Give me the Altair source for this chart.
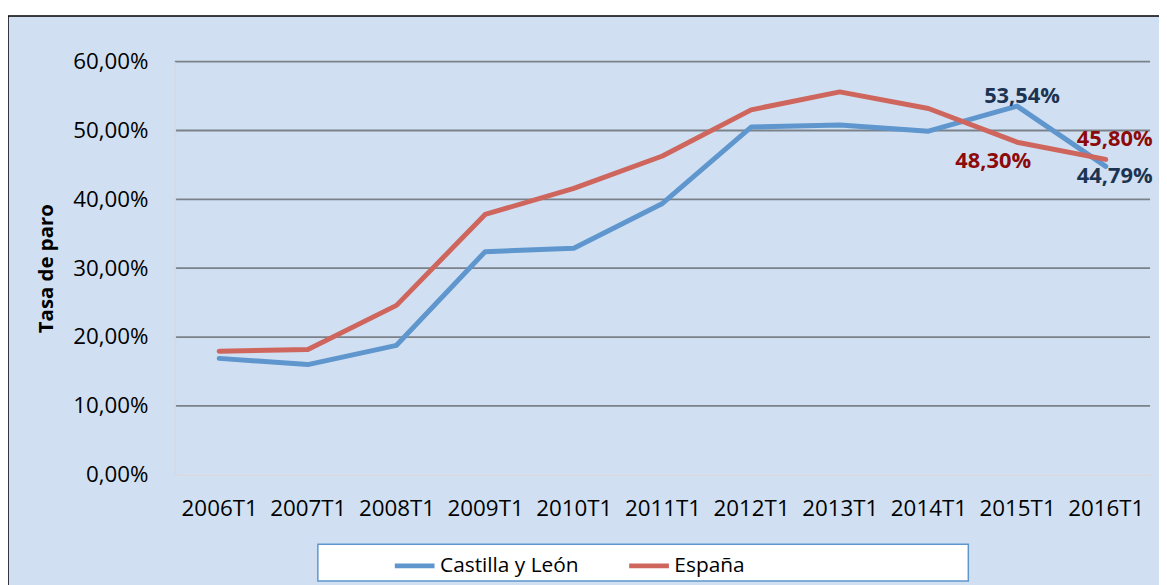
import altair as alt
import pandas as pd

periods = ["2006T1", "2007T1", "2008T1", "2009T1", "2010T1", "2011T1",
           "2012T1", "2013T1", "2014T1", "2015T1", "2016T1"]
cyl = [16.9, 16.0, 18.8, 32.4, 32.9, 39.4, 50.5, 50.8, 49.9, 53.54, 44.79]
esp = [17.95, 18.2, 24.6, 37.8, 41.6, 46.3, 53.0, 55.6, 53.2, 48.30, 45.80]
series_names = ["Castilla y León", "España"]
colors = ["#5f96cd", "#cf665d"]

rows = []
for name, vals in zip(series_names, [cyl, esp]):
    for p, v in zip(periods, vals):
        rows.append({"periodo": p, "serie": name, "tasa": v,
                     "etiqueta": f"{v:.2f}".replace(".", ",") + "%"})
df = pd.DataFrame(rows)

FONT = "Open Sans"
TICK_FS = 22.5

x_enc = alt.X("periodo:N", sort=periods, title=None,
              scale=alt.Scale(paddingOuter=0.5, paddingInner=0),
              axis=alt.Axis(labelAngle=0, labelFontSize=TICK_FS, labelColor="#000000",
                            labelFont=FONT, labelPadding=23, ticks=False, zindex=1,
                            domainColor="#d9d9d9", domainWidth=1.5, grid=False))
y_enc = alt.Y("tasa:Q", title="Tasa de paro",
              scale=alt.Scale(domain=[0, 60], nice=False),
              axis=alt.Axis(values=[0, 10, 20, 30, 40, 50, 60], zindex=1,
                            labelExpr="replace(format(datum.value, '.2f'), '.', ',') + '%'",
                            labelFontSize=TICK_FS, labelFont=FONT, labelColor="#000000",
                            labelPadding=27, ticks=False, grid=False,
                            domainColor="#d9d9d9", domainWidth=1.5,
                            titleFontSize=20.5, titleFont=FONT, titleFontWeight="bold",
                            titleColor="#000000", titleAngle=-90, titleX=-129,
                            titleY=208, titleAlign="center", titleBaseline="middle"))

frame = alt.Chart(pd.DataFrame({"a": [0]})).mark_rect(
    fill="#d0e0f2", stroke="#000000", strokeWidth=1.5
).encode(x=alt.value(-168), x2=alt.value(1400), y=alt.value(-46), y2=alt.value(700))

grid_df = pd.DataFrame({"g": [10, 20, 30, 40, 50, 60]})
grid = alt.Chart(grid_df).mark_rule(color="#7b8189", strokeWidth=1.8).encode(
    y=alt.Y("g:Q", scale=alt.Scale(domain=[0, 60], nice=False)),
    x=alt.value(0), x2=alt.value(982))

legend_box = alt.Chart(pd.DataFrame({"a": [0]})).mark_rect(
    fill="#ffffff", stroke="#5f96cd", strokeWidth=1.5
).encode(x=alt.value(144), x2=alt.value(799), y=alt.value(486), y2=alt.value(523))

lines = alt.Chart(df).mark_line(strokeWidth=5, strokeCap="round", strokeJoin="round").encode(
    x=x_enc, y=y_enc,
    color=alt.Color("serie:N", sort=series_names,
                    scale=alt.Scale(domain=series_names, range=colors),
                    legend=alt.Legend(title=None, orient="none", direction="horizontal",
                                      legendX=219, legendY=485, padding=0, zindex=1,
                                      symbolType="stroke", symbolStrokeWidth=5,
                                      symbolSize=1600, labelFontSize=21, labelFont=FONT,
                                      labelColor="#000000", labelOffset=3,
                                      columnPadding=40, labelLimit=300)))

def lab(series, period, dx, dy, color):
    return alt.Chart(df).transform_filter(
        (alt.datum.serie == series) & (alt.datum.periodo == period)
    ).mark_text(font=FONT, fontSize=22, fontWeight="bold", color=color,
                dx=dx, dy=dy, align="center", baseline="middle").encode(
        x=alt.X("periodo:N", sort=periods, scale=alt.Scale(paddingOuter=0.5, paddingInner=0)),
        y=alt.Y("tasa:Q", scale=alt.Scale(domain=[0, 60], nice=False)),
        text="etiqueta:N")

navy = "#1c3452"
dred = "#8c0a0a"
labels = [
    lab("Castilla y León", "2015T1", 5, -10, navy),
    lab("Castilla y León", "2016T1", 9, 10, navy),
    lab("España", "2015T1", -24, 19, dred),
    lab("España", "2016T1", 9, -21, dred),
]

chart = alt.layer(frame, grid, legend_box, lines, *labels).properties(
    width=982, height=416,
    autosize=alt.AutoSizeParams(type="none"),
    padding={"left": 168, "top": 52, "right": 9, "bottom": 109},
    background="#ffffff"
).configure_view(stroke=None, fill=None)

chart.save("out.html", embed_options={"renderer": "svg", "actions": False})
